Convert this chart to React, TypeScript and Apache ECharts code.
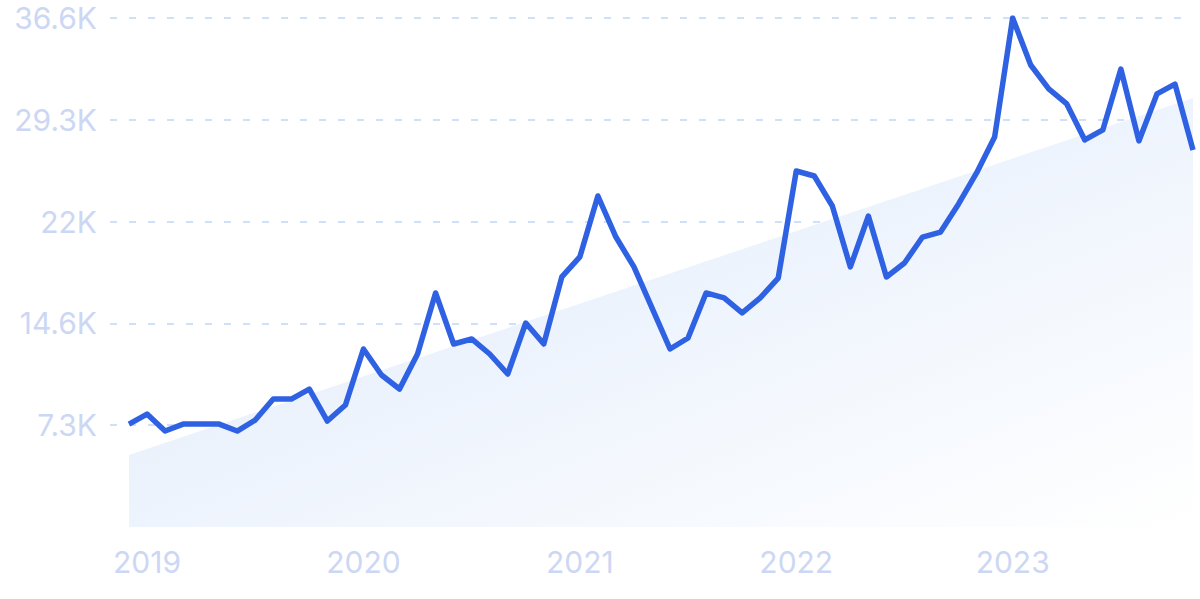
import React, { useEffect, useRef } from 'react';
import * as echarts from 'echarts';

// Month categories: Dec 2018 .. Nov 2023
const months: string[] = [];
for (let i = 0; i < 60; i++) {
  const y = 2018 + Math.floor((i + 11) / 12);
  const m = ((i + 11) % 12) + 1;
  months.push(`${y}-${String(m).padStart(2, '0')}`);
}

const searches: number[] = [
  7400, 8120, 6900, 7400, 7400, 7400, 6900, 7690, 9200, 9200, 9920, 7620,
  8770, 12800, 10930, 9920, 12440, 16830, 13160, 13520, 12440, 11000, 14670, 13160,
  17980, 19420, 23800, 20850, 18700, 15750, 12800, 13590, 16830, 16470, 15390, 16470,
  17900, 25600, 25240, 23080, 18700, 22360, 17980, 18980, 20850, 21210, 23230, 25460,
  28040, 36600, 33220, 31500, 30420, 27830, 28550, 32930, 27760, 31140, 31850, 27110,
];

const trendStart = 5180;
const trendEnd = 30850;

const yMax = 36600;
const yInterval = 7320;

const labelColor = '#ccd7f4';
const gridColor = '#cfe0fb';
const lineColor = '#2f62e3';

export default function App() {
  const ref = useRef<HTMLDivElement>(null);
  useEffect(() => {
    if (!ref.current) return;
    const chart = echarts.init(ref.current, null, { renderer: 'svg' });
    const fmt = (v: number) => {
      if (v === 0) return '';
      let s = (v / 1000).toFixed(1);
      if (s.endsWith('.0')) s = s.slice(0, -2);
      return s + 'K';
    };
    chart.setOption({
      animation: false,
      grid: [
        { left: 110, right: 10, top: 18, bottom: 72 },
        { left: 129, right: 7, top: 18, bottom: 72 },
      ],
      xAxis: [
        { type: 'value', gridIndex: 0, show: false, min: 0, max: 1 },
        {
          type: 'category',
          gridIndex: 1,
          data: months,
          boundaryGap: false,
          axisLine: { show: false },
          axisTick: { show: false },
          splitLine: { show: false },
          axisLabel: {
            interval: (_idx: number, val: string) => val.endsWith('-01'),
            formatter: (val: string) => val.slice(0, 4),
            color: labelColor,
            fontFamily: 'Inter',
            fontSize: 30,
            margin: 20,
          },
        },
        { type: 'value', gridIndex: 1, show: false, min: 0, max: months.length - 1 },
      ],
      yAxis: [
        {
          type: 'value',
          gridIndex: 0,
          min: 0,
          max: yMax,
          interval: yInterval,
          axisLine: { show: false },
          axisTick: { show: false },
          axisLabel: {
            formatter: fmt,
            color: labelColor,
            fontFamily: 'Inter',
            fontSize: 30,
            margin: 13,
            showMinLabel: false,
          },
          splitLine: {
            show: true,
            showMinLine: false,
            lineStyle: { color: gridColor, width: 2, type: [7, 12] },
          },
        },
        { type: 'value', gridIndex: 1, show: false, min: 0, max: yMax, interval: yInterval },
      ],
      series: [
        {
          type: 'line',
          xAxisIndex: 2,
          yAxisIndex: 1,
          data: [
            [0, trendStart],
            [months.length - 1, trendEnd],
          ],
          symbol: 'none',
          lineStyle: { width: 0 },
          areaStyle: {
            opacity: 1,
            color: new echarts.graphic.LinearGradient(0, 0, 1, 1, [
              { offset: 0, color: '#dae8fb' },
              { offset: 0.5, color: '#eef4fd' },
              { offset: 1, color: '#ffffff' },
            ]),
          },
          silent: true,
        },
        {
          type: 'line',
          xAxisIndex: 1,
          yAxisIndex: 1,
          data: searches,
          symbol: 'none',
          lineStyle: { width: 5.5, color: lineColor, join: 'round' },
          z: 3,
        },
      ],
    });
    return () => chart.dispose();
  }, []);
  return (
    <div
      ref={ref}
      style={{ position: 'fixed', left: 0, top: 0, width: 1200, height: 599, background: '#fff' }}
    />
  );
}
